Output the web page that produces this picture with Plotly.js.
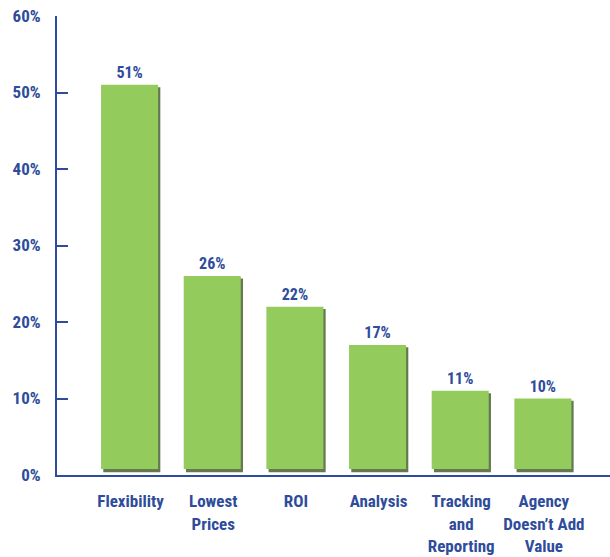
<!DOCTYPE html>
<html>
<head>
<meta charset="utf-8">
<script src="https://cdn.plot.ly/plotly-3.0.1.min.js"></script>
<style>
  html, body { margin: 0; padding: 0; background: #fff; }
  #chart { width: 610px; height: 557px; }
</style>
</head>
<body>
<div id="chart"></div>
<script>
// Reasons given, share of respondents (%)
const categories = ['Flexibility', 'Lowest<br>Prices', 'ROI', 'Analysis',
                    'Tracking<br>and<br>Reporting', 'Agency<br>Doesn\u2019t Add<br>Value'];
const shares = [51, 26, 22, 17, 11, 10];
const yTicks = [0, 10, 20, 30, 40, 50, 60];

const BLUE = '#2e4c9b';
const GREEN = '#93cb5d';
const SHADE = 'rgba(62,88,36,0.8)';
const FONT = '"Roboto Condensed", "Open Sans", sans-serif';

// bars float a little above the axis line; a darker copy sits behind as a drop shadow
const mainBase = 0.8;
const shadeBase = 0.35;

const shadow = {
  type: 'bar',
  x: categories,
  y: shares.map(v => v - 0.3 - shadeBase),
  base: shadeBase,
  width: 0.69,
  offset: -0.33,
  marker: { color: SHADE, line: { width: 0 } },
  hoverinfo: 'skip',
  showlegend: false
};

const bars = {
  type: 'bar',
  x: categories,
  y: shares.map(v => v - mainBase),
  base: mainBase,
  width: 0.69,
  offset: -0.357,
  marker: { color: GREEN, line: { width: 0 } },
  text: shares.map(v => v + '%'),
  textposition: 'outside',
  textfont: { family: FONT, size: 16, color: BLUE, weight: 'bold' },
  cliponaxis: false,
  hovertemplate: '%{x}: %{text}<extra></extra>',
  showlegend: false
};

const layout = {
  width: 610,
  height: 557,
  margin: { l: 57, r: 0, t: 16, b: 82 },
  paper_bgcolor: '#ffffff',
  plot_bgcolor: '#ffffff',
  barmode: 'overlay',
  font: { family: FONT, color: BLUE },
  xaxis: {
    type: 'category',
    range: [-0.89, 5.8],
    showline: true,
    linecolor: BLUE,
    linewidth: 2,
    ticks: '',
    tickangle: 0,
    showgrid: false,
    zeroline: false,
    tickfont: { family: FONT, size: 17, color: BLUE, weight: 'bold' },
    ticklabelstandoff: 10,
    fixedrange: true
  },
  yaxis: {
    range: [0, 60],
    tickvals: yTicks,
    ticktext: yTicks.map(t => t + '%'),
    showline: true,
    linecolor: BLUE,
    linewidth: 2,
    ticks: 'inside',
    ticklen: 11,
    tickwidth: 2,
    tickcolor: BLUE,
    showgrid: false,
    zeroline: false,
    tickfont: { family: FONT, size: 17, color: BLUE, weight: 'bold' },
    ticklabelstandoff: 11,
    fixedrange: true
  }
};

Plotly.newPlot('chart', [shadow, bars], layout, { displayModeBar: false, staticPlot: true });
</script>
</body>
</html>
